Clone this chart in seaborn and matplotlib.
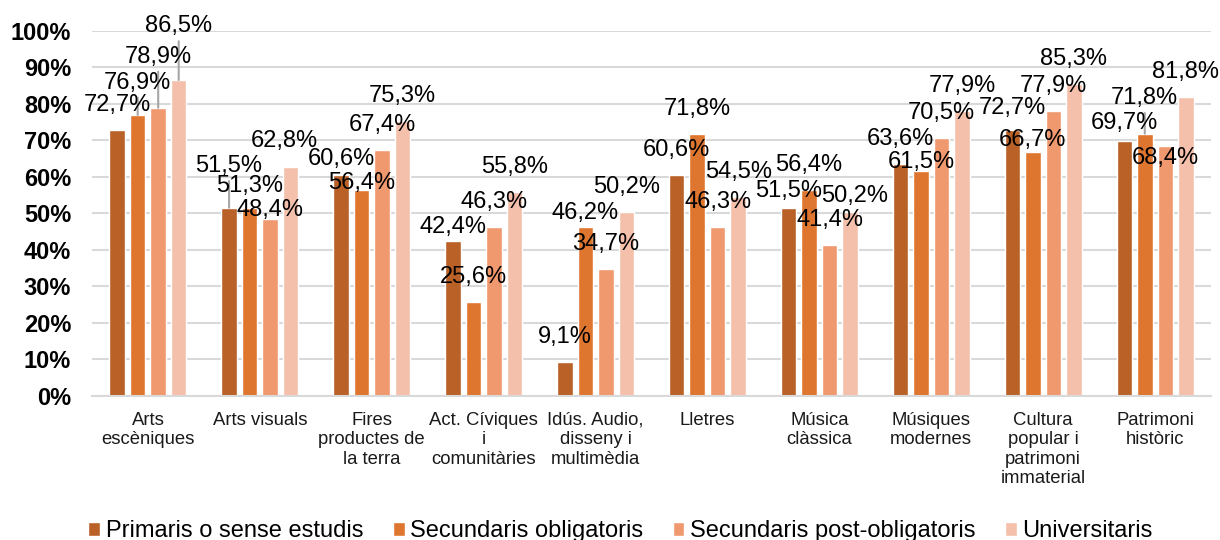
import pandas as pd
import matplotlib.pyplot as plt
import seaborn as sns

# data
categories = ['Arts\nescèniques', 'Arts visuals', 'Fires\nproductes de\nla terra',
              'Act. Cíviques\ni\ncomunitàries', 'Idús. Audio,\ndisseny i\nmultimèdia',
              'Lletres', 'Música\nclàssica', 'Músiques\nmodernes',
              'Cultura\npopular i\npatrimoni\nimmaterial', 'Patrimoni\nhistòric']
series = ['Primaris o sense estudis', 'Secundaris obligatoris',
          'Secundaris post-obligatoris', 'Universitaris']
primaris = [72.7, 51.5, 60.6, 42.4, 9.1, 60.6, 51.5, 63.6, 72.7, 69.7]
secundaris_oblig = [76.9, 51.3, 56.4, 25.6, 46.2, 71.8, 56.4, 61.5, 66.7, 71.8]
secundaris_post = [78.9, 48.4, 67.4, 46.3, 34.7, 46.3, 41.4, 70.5, 77.9, 68.4]
universitaris = [86.5, 62.8, 75.3, 55.8, 50.2, 54.5, 50.2, 77.9, 85.3, 81.8]
colors = ['#B96126', '#DE762F', '#F0996F', '#F5C0AB']

rows = []
for name, vals in zip(series, [primaris, secundaris_oblig, secundaris_post, universitaris]):
    for cat, v in zip(categories, vals):
        rows.append({'cat': cat, 'serie': name, 'pct': v})
df = pd.DataFrame(rows)

# label nudges (pixels, dx right / dy up) where the labels were moved by hand
default_dy = 25
nudge = {
    (0, 1): (0, 32.5), (0, 2): (0, 51), (0, 3): (0, 53.7),
    (1, 0): (0, 41.7), (1, 1): (0, 22.4), (1, 2): (0, 9), (1, 3): (-6, 25.7),
    (2, 0): (0, 15.5), (2, 1): (0, 7.3),
    (3, 0): (0, 14),
    (4, 1): (0, 13.7),
    (6, 0): (0, 16.4), (6, 3): (4.5, 16.3),
    (7, 1): (0, 9.2),
    (8, 0): (0, 22), (8, 1): (0, 12.2),
    (9, 0): (0, 18.8), (9, 1): (0, 35.6), (9, 2): (0, -12.2),
}

sns.set_style('white')
plt.rcParams['font.family'] = ['Liberation Sans', 'DejaVu Sans']
plt.rcParams['text.color'] = 'black'

fig = plt.figure(figsize=(12.2, 5.4), dpi=100)
ax = fig.add_axes([0.0754, 0.2672, 0.9172, 0.6759])

sns.barplot(data=df, x='cat', y='pct', hue='serie', hue_order=series,
            palette=colors, width=0.733, gap=0.244, saturation=1,
            ax=ax, zorder=2)

ax.set_ylim(0, 100)
ax.set_yticks(range(0, 101, 10))
ax.set_yticklabels([f'{t}%' for t in range(0, 101, 10)], fontsize=17, fontweight='bold')
ax.tick_params(axis='y', length=0, pad=15, labelcolor='black')
ax.tick_params(axis='x', length=0, pad=11.5, labelsize=13.3, labelcolor='#1a1a1a')
ax.set_xlabel('')
ax.set_ylabel('')
ax.yaxis.grid(True, color='#D9D9D9', lw=1.5)
ax.set_axisbelow(True)
for s in ['top', 'right', 'left']:
    ax.spines[s].set_visible(False)
ax.spines['bottom'].set_color('#D9D9D9')
ax.spines['bottom'].set_linewidth(1.5)

# data labels
for j, cont in enumerate(ax.containers):
    for i, bar in enumerate(cont):
        x = bar.get_x() + bar.get_width() / 2
        h = bar.get_height()
        dx, dy = nudge.get((i, j), (0, default_dy))
        txt = f'{h:.1f}%'.replace('.', ',')
        ax.annotate(txt, (x, h), xytext=(dx, dy), textcoords='offset pixels',
                    ha='center', va='center', fontsize=17, color='black',
                    annotation_clip=False, zorder=4)
        if dy > 30:
            ax.annotate('', (x, h), xytext=(0, dy - 15), textcoords='offset pixels',
                        arrowprops=dict(arrowstyle='-', color='#A6A6A6', lw=1.5,
                                        shrinkA=0, shrinkB=0),
                        annotation_clip=False, zorder=3)

handles, labels = ax.get_legend_handles_labels()
ax.get_legend().remove()
fig.legend(handles, labels, loc='center', bbox_to_anchor=(0.5086, 0.016), ncol=4,
           frameon=False, fontsize=17, handlelength=0.5, handleheight=0.55,
           handletextpad=0.23, columnspacing=1.25)

plt.savefig('out.png', dpi=100)
plt.close()
